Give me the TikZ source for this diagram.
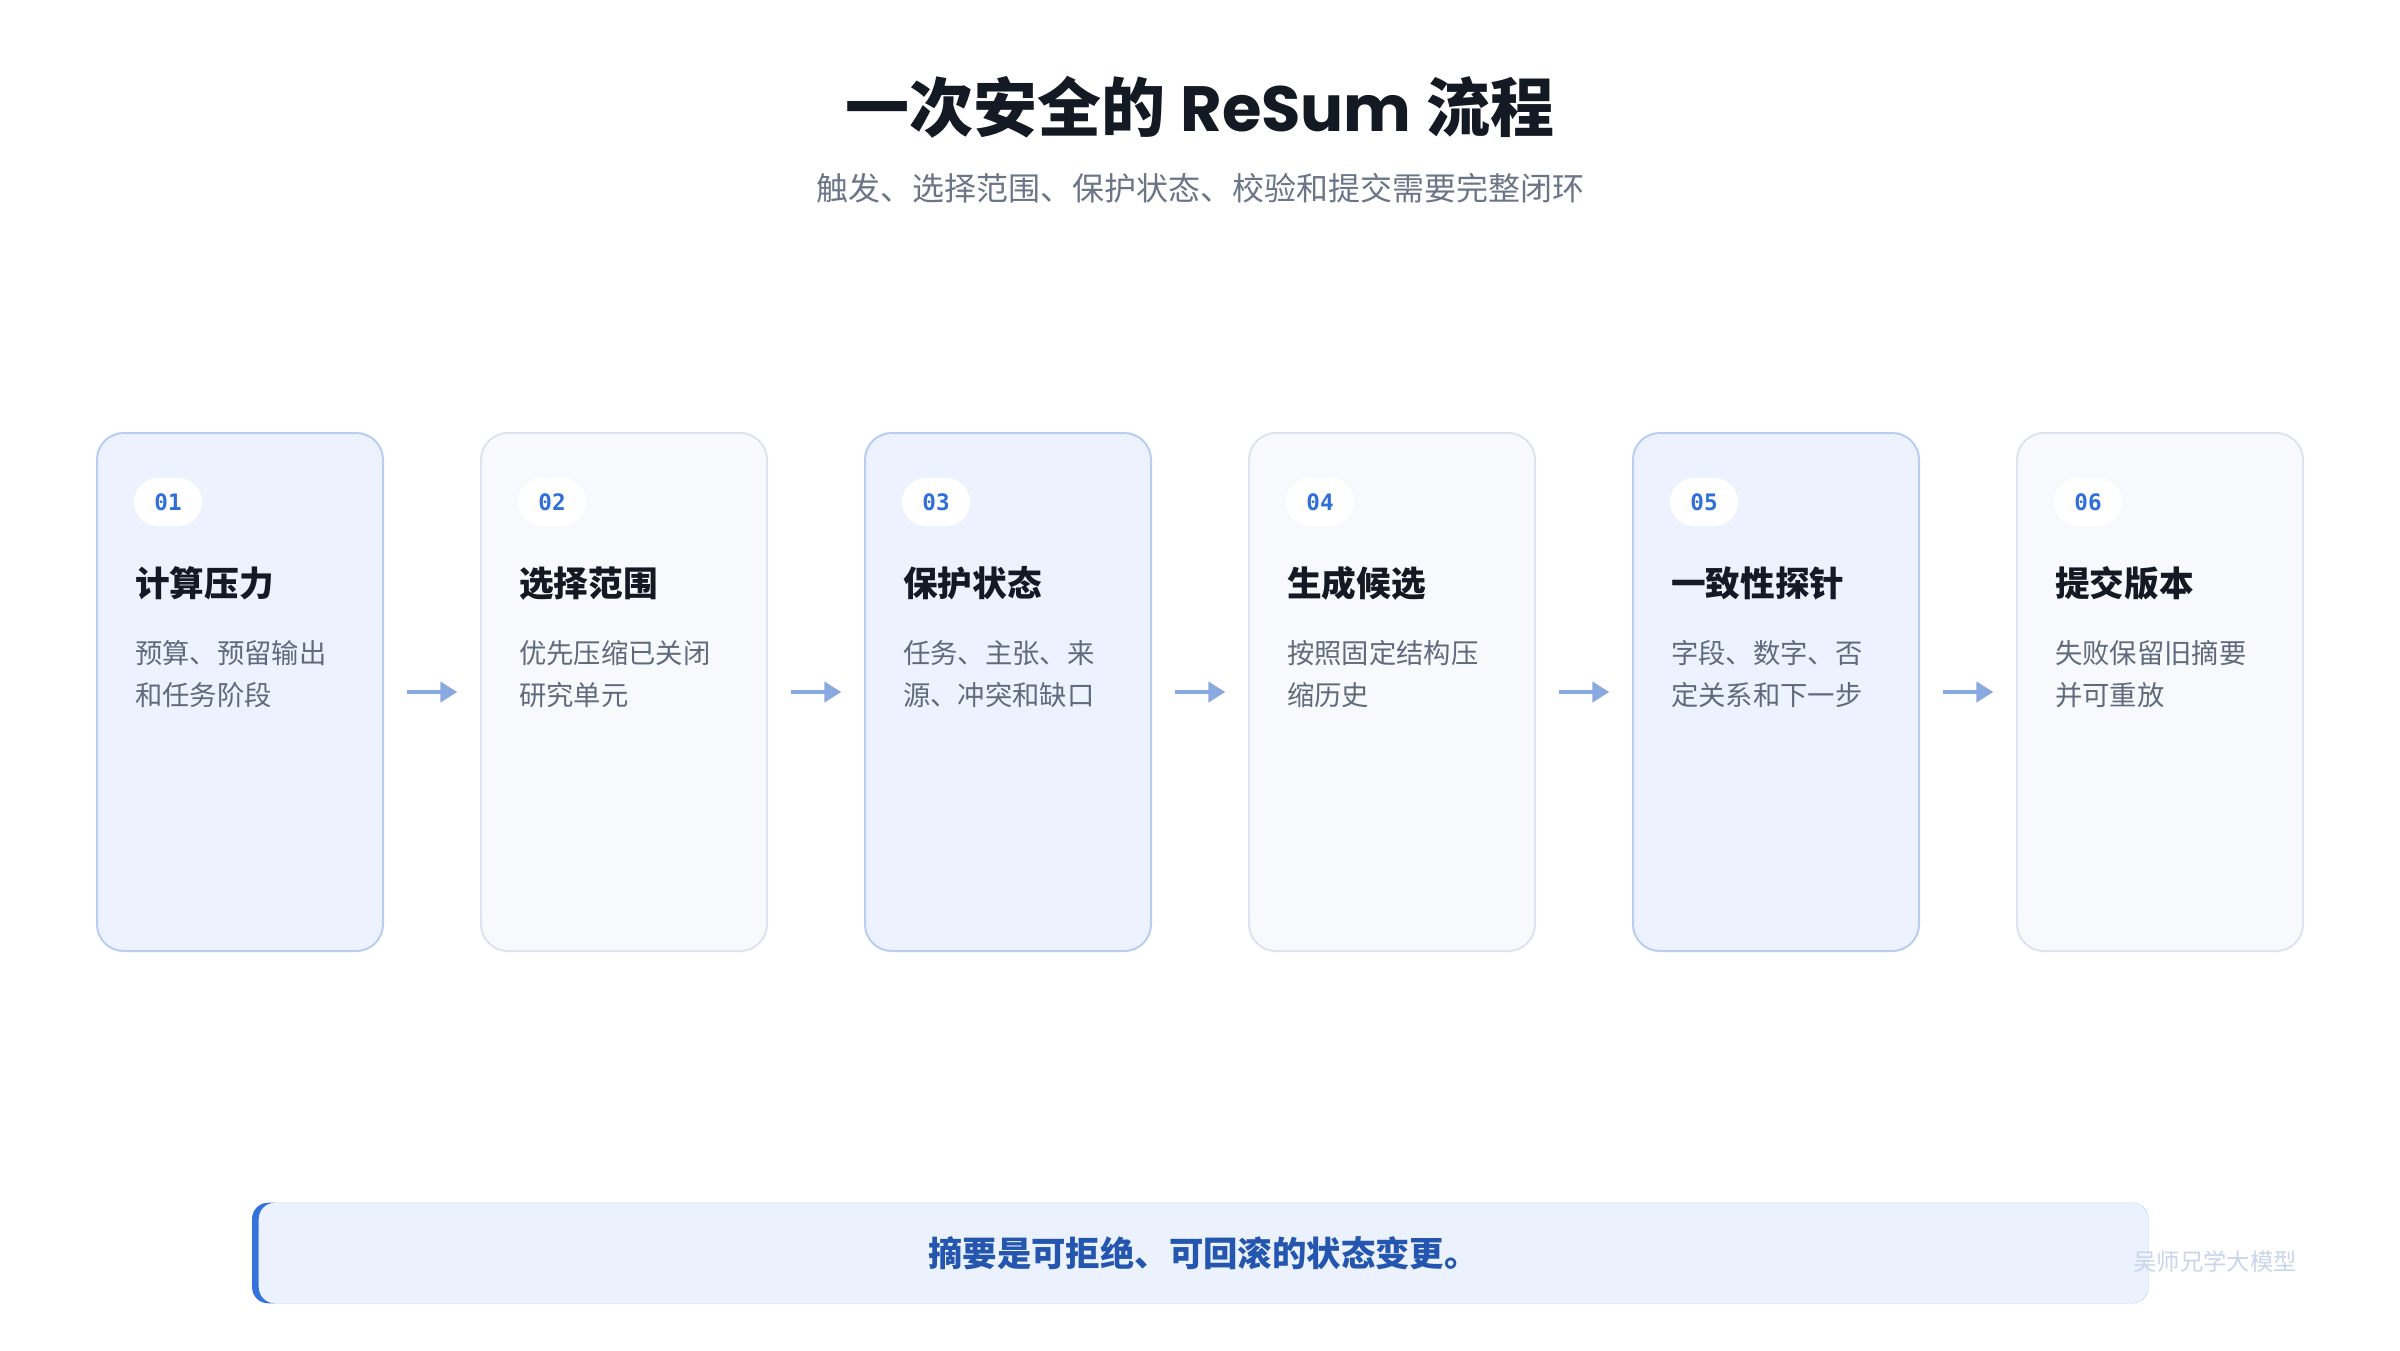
\documentclass[tikz,border=0pt]{standalone}
\usepackage{fontspec}
\setmainfont{Noto Sans CJK SC}
\newfontfamily\latinfont{Poppins}
\newfontfamily\numfont{DejaVu Sans Mono}
\usetikzlibrary{arrows.meta}

\definecolor{oddfill}{HTML}{EDF3FE}
\definecolor{oddline}{HTML}{B7CDF2}
\definecolor{evenfill}{HTML}{F7F9FD}
\definecolor{evenline}{HTML}{DDE4EE}
\definecolor{numblue}{HTML}{2F6FD9}
\definecolor{titleink}{HTML}{141A24}
\definecolor{subink}{HTML}{6B7588}
\definecolor{descink}{HTML}{5F6B7D}
\definecolor{flowblue}{HTML}{8AA9E0}
\definecolor{notefill}{HTML}{EBF2FE}
\definecolor{notebar}{HTML}{3572DE}
\definecolor{noteink}{HTML}{2456AF}
\definecolor{markink}{HTML}{C9D5EB}

\tikzset{
	card/.style={rounded corners=20pt, minimum width=214.5pt, minimum height=388.5pt, inner sep=0pt, line width=1.5pt},
	card odd/.style={card, fill=oddfill, draw=oddline},
	card even/.style={card, fill=evenfill, draw=evenline},
	badge/.style={fill=white, rounded corners=18pt, minimum width=51pt, minimum height=36pt, inner sep=0pt,
		text=numblue, font=\numfont\bfseries\fontsize{17}{17}\selectfont},
	steptitle/.style={anchor=base west, inner sep=0pt, text=titleink, font=\bfseries\fontsize{26}{30}\selectfont},
	stepdesc/.style={anchor=base west, inner sep=0pt, align=left, text=descink, font=\fontsize{20.5}{31.5}\selectfont},
	flow/.style={draw=flowblue, line width=3pt, -{Triangle[length=12.75pt,width=15pt]}, shorten <=17pt, shorten >=17pt}
}

\begin{document}
\begin{tikzpicture}[x=0.75pt,y=0.75pt,yscale=-1,xscale=1]
	\useasboundingbox[fill=white] (0,0) rectangle (2400,1350);

	% Text Node
	\node[text=titleink, font=\bfseries\fontsize{48}{56}\selectfont] (title) at (1200,107) {一次安全的 {\latinfont ReSum} 流程};
	% Text Node
	\node[text=subink, font=\fontsize{24}{28}\selectfont] (subtitle) at (1200,188) {触发、选择范围、保护状态、校验和提交需要完整闭环};

	%Shape: cards
	\foreach \i/\name/\la/\lb/\kind in {
		1/计算压力/预算、预留输出/和任务阶段/odd,
		2/选择范围/优先压缩已关闭/研究单元/even,
		3/保护状态/任务、主张、来/源、冲突和缺口/odd,
		4/生成候选/按照固定结构压/缩历史/even,
		5/一致性探针/字段、数字、否/定关系和下一步/odd,
		6/提交版本/失败保留旧摘要/并可重放/even}{
		\node[card \kind] (c\i) at ({240+(\i-1)*384},692) {};
		\node[badge] (n\i) at ({168+(\i-1)*384},502) {0\i};
		\node[steptitle] (t\i) at ({135+(\i-1)*384},596) {\name};
		\node[stepdesc] (d\i) at ({135+(\i-1)*384},705) {\la\\\lb};
	}

	%Straight Lines
	\foreach \i in {1,...,5}{
		\pgfmathtruncatemacro\j{\i+1}
		\draw[flow] (c\i) -- (c\j);
	}

	%Shape: note bar
	\node[fill=notefill, rounded corners=12pt, minimum width=1416.75pt, minimum height=75pt, inner sep=0pt,
		text=noteink, font=\bfseries\fontsize{25.8}{30}\selectfont] (note) at (1203.5,1253) {摘要是可拒绝、可回滚的状态变更。};
	\fill[notebar, even odd rule, rounded corners=12pt] ([xshift=-5pt]note.north west) rectangle (note.south east)
		(note.north west) rectangle (note.south east);

	% Text Node
	\node[text=markink, font=\fontsize{17.5}{20}\selectfont] (mark) at (2215,1262) {吴师兄学大模型};
\end{tikzpicture}
\end{document}
